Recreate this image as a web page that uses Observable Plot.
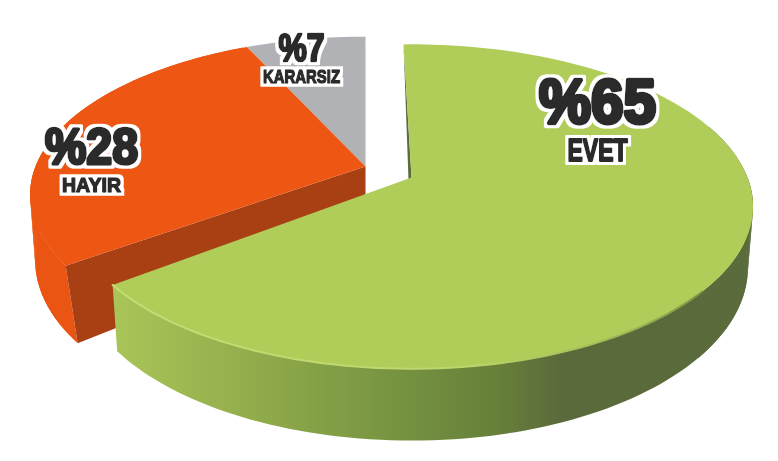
<!DOCTYPE html>
<html><head><meta charset="utf-8">
<script src="https://cdn.jsdelivr.net/npm/d3@7"></script>
<script src="https://cdn.jsdelivr.net/npm/@observablehq/plot@0.6"></script>
<style>html,body{margin:0;background:#fff}svg{display:block}</style></head>
<body><div id="c"></div>
<script>
// Data
const categories = ["EVET", "HAYIR", "KARARSIZ"];
const shares = [65, 28, 7];
const percentLabels = ["%65", "%28", "%7"];

// Drawing set-up, separate from the data
const sliceLook = {
  EVET: {cx: 411, cy: 177, R: 336, H: 157, depth: 59, shrink: 0.985, turn: -1.6, top: "#b0cd5a", wall: "#5a6b3a", rim: "url(#greenRim)"},
  HAYIR: {cx: 365, cy: 166, R: 330, H: 153, depth: 63, shrink: 0.985, turn: 0.5, top: "#ee5614", wall: "#a84014", rim: "#eb5513"},
  KARARSIZ: {cx: 365, cy: 166, R: 330, H: 153, depth: 63, shrink: 0.985, turn: 0.5, top: "#b0b2b5", wall: "#8c8e90", rim: "#8c8e90"}
};
const labelSpot = {
  EVET: {x: 597, y: 102, size: 63, w: 117, sub: 31, subY: 150.5, subW: 60},
  HAYIR: {x: 91, y: 147, size: 50, w: 93, sub: 21, subY: 185, subW: 59},
  KARARSIZ: {x: 301, y: 48, size: 38, w: 46, sub: 19, subY: 76, subW: 77}
};
const tilt = 0.179, cornerLead = 2.5;

const total = d3.sum(shares);
let run = 0;
const slices = categories.map((name, i) => {
  const look = sliceLook[name];
  const a0 = run / total * 360 + look.turn; run += shares[i];
  const a1 = Math.min(360, run / total * 360 + look.turn);
  return {name, a0, a1, ...look};
});
function rimPoint(s, deg, drop = 0) {
  const t = deg * Math.PI / 180, u = Math.sin(t), v = -Math.cos(t), k = 1 / (1 - tilt * v);
  const x = s.cx + s.R * u * k;
  return {x: drop ? s.cx + (x - s.cx) * s.shrink : x, y: s.cy + s.H * v * k + drop * s.depth * k};
}
function arc(s, a0, a1, drop = 0) {
  const n = Math.max(2, Math.ceil(Math.abs(a1 - a0) / 1.5));
  return d3.range(n + 1).map(i => rimPoint(s, a0 + (a1 - a0) * i / n, drop));
}
const face = s => [{x: s.cx, y: s.cy}, ...arc(s, s.a0, s.a1)];
const band = (s, a0, a1, lead = 0) => [...arc(s, a0, a1), ...arc(s, a1, a0 - lead, 1)];
// Narrow quads that fill the outer silhouette between the top edge and the bottom edge
const strips = (s, a0, a1) => d3.range(a0, a1, 2).flatMap(a => [
  rimPoint(s, a), rimPoint(s, a + 2), rimPoint(s, a + 2, 1), rimPoint(s, a, 1)
].map(p => ({...p, id: a})));
const [green, orange, grey] = slices;
const orangeWall = [{x: orange.cx, y: orange.cy}, rimPoint(orange, orange.a0), rimPoint(orange, orange.a0 - cornerLead, 1), {x: orange.cx, y: orange.cy + orange.depth}];
const poly = (pts, fill) => Plot.line(pts, {x: "x", y: "y", fill, stroke: "none", curve: "linear-closed"});
const polys = (pts, fill) => Plot.line(pts, {x: "x", y: "y", z: "id", fill, stroke: "none", curve: "linear-closed"});

const defs = () => {
  const d = d3.create("svg:defs");
  const g = d.append("linearGradient").attr("id", "greenRim").attr("gradientUnits", "userSpaceOnUse")
    .attr("x1", 115).attr("x2", 752).attr("y1", 0).attr("y2", 0);
  [[0, "#a9c558"], [0.2, "#93ae4c"], [0.45, "#759240"], [0.6, "#67803a"], [0.7, "#5a6a3a"], [1, "#5a6b3c"]]
    .forEach(([o, c]) => g.append("stop").attr("offset", o).attr("stop-color", c));
  const h = d.append("linearGradient").attr("id", "greenEdge").attr("gradientUnits", "userSpaceOnUse")
    .attr("x1", 115).attr("x2", 700).attr("y1", 0).attr("y2", 0);
  [[0, "#c4dd74"], [0.6, "#bcd66c"], [0.85, "#a0ba56"], [1, "#7f9648"]]
    .forEach(([o, c]) => h.append("stop").attr("offset", o).attr("stop-color", c));
  const f = d.append("filter").attr("id", "halo").attr("x", "-20%").attr("y", "-30%").attr("width", "140%").attr("height", "160%");
  f.append("feMorphology").attr("in", "SourceAlpha").attr("operator", "dilate").attr("radius", 3).attr("result", "grown");
  f.append("feFlood").attr("flood-color", "#fff");
  f.append("feComposite").attr("in2", "grown").attr("operator", "in").attr("result", "white");
  const m = f.append("feMerge");
  m.append("feMergeNode").attr("in", "white");
  m.append("feMergeNode").attr("in", "SourceGraphic");
  return d.node();
};

const labelFont = "'Liberation Sans',sans-serif";
const rows = slices.map((s, i) => ({...labelSpot[s.name], name: s.name, pct: percentLabels[i]}));
const label = (text, yKey, sizeKey) => Plot.text(rows, {
  x: "x", y: yKey, text, fontSize: d => d[sizeKey], fontWeight: 700, fontFamily: labelFont,
  fill: "#2a2a2a", stroke: "#2a2a2a", strokeWidth: d => Math.max(1.6, d[sizeKey] * 0.07), strokeLinejoin: "round",
  textAnchor: "middle", lineAnchor: "middle", imageFilter: "url(#halo)"
});

const chart = Plot.plot({
  width: 778, height: 461, margin: 0,
  x: {domain: [0, 778], range: [0, 778], axis: null},
  y: {domain: [0, 461], range: [0, 461], axis: null},
  marks: [
    defs,
    poly(face(grey), grey.top),
    poly(band(orange, orange.a0, orange.a0 + 100, cornerLead), orange.rim),
    polys(strips(orange, orange.a0, orange.a0 + 60), orange.rim),
    poly(orangeWall, orange.wall),
    poly(face(orange), orange.top),
    poly([{x: green.cx, y: green.cy}, rimPoint(green, green.a0), {x: green.cx - 3, y: green.cy + 2}], green.wall),
    polys(strips(green, 70, 130), green.rim),
    poly(band(green, 90, green.a1), green.rim),
    poly(face(green), green.top),
    Plot.line(arc(green, 130, green.a1), {x: "x", y: "y", stroke: "url(#greenEdge)", strokeWidth: 2}),
    label(d => d.pct, "y", "size"),
    label(d => d.name, "subY", "sub")
  ]
});
// Squeeze the labels to the condensed width of the reference's typeface
const widths = new Map(rows.flatMap(r => [[r.pct, r.w], [r.name, r.subW]]));
chart.querySelectorAll("text").forEach(t => {
  const w = widths.get(t.textContent.trim());
  if (w) { t.setAttribute("textLength", w); t.setAttribute("lengthAdjust", "spacingAndGlyphs"); }
});
document.getElementById("c").append(chart);
</script></body></html>
